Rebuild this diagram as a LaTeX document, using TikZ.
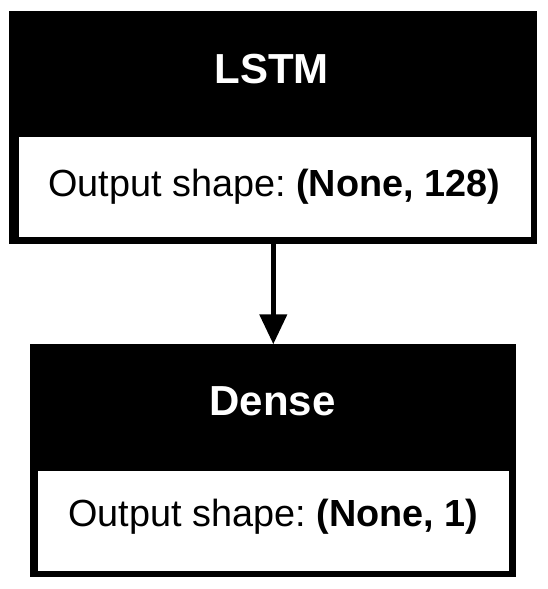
\documentclass[tikz,border=0pt]{standalone}
\usepackage{fontspec}
\setmainfont{Liberation Sans}
\usetikzlibrary{arrows.meta}
\frenchspacing
\begin{document}
\begin{tikzpicture}[x=1pt,y=-1pt,
  layerbox/.style={fill=black, draw=none, inner sep=0pt, outer sep=0pt},
  shapebox/.style={fill=white, draw=none, inner sep=0pt, outer sep=0pt},
  titletext/.style={anchor=base, inner sep=0pt, text=white, font=\fontsize{42}{50}\selectfont\bfseries},
  bodytext/.style={anchor=base, inner sep=0pt, text=black, font=\fontsize{37.8}{45}\selectfont},
  flow/.style={line width=5.3pt, -{Triangle[width=26.7pt,length=30pt]}}
]
\useasboundingbox (0,0) rectangle (547,589);
% LSTM layer
\node[layerbox, minimum width=528pt, minimum height=233pt] (lstm) at (273.3,127.5) {};
\node[shapebox, minimum width=511.4pt, minimum height=100.6pt] (lstmshape) at (275,187) {};
\node[titletext] (lstmtitle) at (271.7,83.3) {LSTM};
\node[bodytext] (lstmout) at (274.2,196.7) {Output shape: \textbf{(None, 128)}};
% Dense layer
\node[layerbox, minimum width=485.7pt, minimum height=233pt] (dense) at (273.15,460.8) {};
\node[shapebox, minimum width=471pt, minimum height=99.7pt] (denseshape) at (273.8,520.85) {};
\node[titletext] (densetitle) at (272.5,415) {Dense};
\node[bodytext] (denseout) at (273.3,526.7) {Output shape: \textbf{(None, 1)}};
% connector
\draw[flow] (lstm.south -| 273.3,0) -- (dense.north -| 273.3,0);
\end{tikzpicture}
\end{document}
